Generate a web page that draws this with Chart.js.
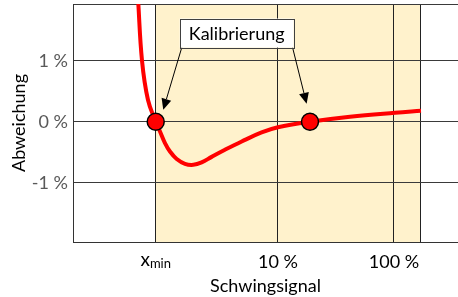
<!DOCTYPE html>
<html>
<head>
<meta charset="utf-8">
<script src="https://cdn.jsdelivr.net/npm/chart.js@4.4.1/dist/chart.umd.min.js"></script>
<style>
  html, body { margin: 0; padding: 0; background: #fff; }
  #wrap { width: 458px; height: 297px; }
</style>
</head>
<body>
<div id="wrap"><canvas id="chart"></canvas></div>
<script>
// x in decades of the signal (10 % = 1, 100 % = 2), y = deviation in %
const curveX = [-0.206, -0.172, -0.121, -0.054, -0.017, 0.026, 0.069, 0.127, 0.198, 0.270, 0.342, 0.428, 0.543, 0.687, 0.859, 1.0, 1.276, 1.621, 2.009, 2.233];
const curveY = [2.0, 1.0, 0.36, 0, -0.159, -0.349, -0.487, -0.611, -0.689, -0.705, -0.665, -0.575, -0.459, -0.323, -0.175, -0.09, 0, 0.082, 0.148, 0.18];

// calibration points
const calX = [-0.054, 1.276];
const calY = [0, 0];

const xTickPos = [-0.054, 1, 2, 2.233];
const xTickLabels = ['', '10 %', '100 %', ''];
const yTickPos = [-1.97, -1, 0, 1, 1.93];
const yTickLabels = ['', '-1 %', '0 %', '1 %', ''];

// shaded working range: x_min .. upper end
const rangeStart = -0.054;
const rangeEnd = 2.233;

const calloutText = 'Kalibrierung';
const calloutAt = { x: 0.644, y: 1.454 };
const arrowTips = [{ x: 0.011, y: 0.197 }, { x: 1.247, y: 0.295 }];

const FONT = 'Lato, "Open Sans", sans-serif';

const rangeShade = {
  id: 'rangeShade',
  beforeDraw(chart) {
    const { ctx, chartArea: a, scales: { x } } = chart;
    const x0 = x.getPixelForValue(rangeStart);
    const x1 = x.getPixelForValue(rangeEnd);
    ctx.save();
    ctx.fillStyle = '#FFF2CC';
    ctx.fillRect(x0, a.top, x1 - x0, a.bottom - a.top);
    ctx.restore();
  }
};

// the "x_min" tick label needs a subscript, so it is drawn here
const xminLabel = {
  id: 'xminLabel',
  afterDraw(chart) {
    const { ctx, scales: { x }, chartArea: a } = chart;
    const px = x.getPixelForValue(rangeStart);
    ctx.save();
    ctx.fillStyle = '#000';
    ctx.textBaseline = 'alphabetic';
    ctx.font = '19px ' + FONT;
    const wx = ctx.measureText('x').width;
    ctx.font = '13px ' + FONT;
    const ws = ctx.measureText('min').width;
    const left = px - (wx + ws) / 2;
    ctx.font = '19px ' + FONT;
    ctx.fillText('x', left, a.bottom + 24);
    ctx.font = '13px ' + FONT;
    ctx.fillText('min', left + wx, a.bottom + 26);
    ctx.restore();
  }
};

const callout = {
  id: 'callout',
  afterDraw(chart) {
    const { ctx, scales: { x, y } } = chart;
    ctx.save();
    ctx.font = '18px ' + FONT;
    const w = ctx.measureText(calloutText).width + 18;
    const h = 29;
    const cx = x.getPixelForValue(calloutAt.x);
    const cy = y.getPixelForValue(calloutAt.y);
    const bx = cx - w / 2, by = cy - h / 2;

    // arrows from the lower corners of the box
    const starts = [[bx + 2, by + h], [bx + w - 1, by + h]];
    ctx.strokeStyle = '#000';
    ctx.fillStyle = '#000';
    ctx.lineWidth = 1;
    arrowTips.forEach((t, i) => {
      const tx = x.getPixelForValue(t.x), ty = y.getPixelForValue(t.y);
      const [sx, sy] = starts[i];
      const ang = Math.atan2(ty - sy, tx - sx);
      const len = 11, half = 5;
      const bxp = tx - len * Math.cos(ang), byp = ty - len * Math.sin(ang);
      ctx.beginPath();
      ctx.moveTo(sx, sy);
      ctx.lineTo(bxp, byp);
      ctx.stroke();
      ctx.beginPath();
      ctx.moveTo(tx, ty);
      ctx.lineTo(bxp + half * Math.sin(ang), byp - half * Math.cos(ang));
      ctx.lineTo(bxp - half * Math.sin(ang), byp + half * Math.cos(ang));
      ctx.closePath();
      ctx.fill();
    });

    ctx.fillStyle = '#fff';
    ctx.fillRect(bx, by, w, h);
    ctx.strokeStyle = '#404040';
    ctx.strokeRect(Math.round(bx) + 0.5, Math.round(by) + 0.5, Math.round(w), h);
    ctx.fillStyle = '#000';
    ctx.textAlign = 'center';
    ctx.textBaseline = 'middle';
    ctx.fillText(calloutText, cx, cy + 1);
    ctx.restore();
  }
};

const layoutPad = { top: 4, left: 0, right: 0, bottom: 0 };

const chart = new Chart(document.getElementById('chart'), {
  type: 'line',
  data: {
    datasets: [
      {
        label: 'Kalibrierpunkte',
        data: calX.map((v, i) => ({ x: v, y: calY[i] })),
        showLine: false,
        pointRadius: 8.5,
        pointBackgroundColor: '#FF0000',
        pointBorderColor: '#000',
        pointBorderWidth: 1.5,
        order: 0
      },
      {
        label: 'Abweichung',
        data: curveX.map((v, i) => ({ x: v, y: curveY[i] })),
        borderColor: '#FF0000',
        borderWidth: 4,
        pointRadius: 0,
        tension: 0.4,
        order: 1
      }
    ]
  },
  options: {
    responsive: true,
    maintainAspectRatio: false,
    animation: false,
    events: [],
    layout: { autoPadding: false, padding: layoutPad },
    plugins: {
      legend: { display: false },
      tooltip: { enabled: false }
    },
    scales: {
      x: {
        type: 'linear',
        min: -0.767,
        max: 2.552,
        afterBuildTicks: (s) => { s.ticks = xTickPos.map(v => ({ value: v })); },
        afterFit: (s) => { s.height = 55; s.paddingLeft = 0; s.paddingRight = 0; },
        grid: { color: '#222', lineWidth: 1, drawTicks: false },
        border: { color: '#333', width: 1 },
        ticks: {
          padding: 9,
          color: '#000',
          font: { family: FONT, size: 18 },
          maxRotation: 0,
          autoSkip: false,
          callback: (v, i) => xTickLabels[i]
        },
        title: {
          display: true,
          text: 'Schwingsignal',
          color: '#000',
          font: { family: FONT, size: 18 },
          padding: { top: 0, bottom: 0 }
        }
      },
      y: {
        min: -1.97,
        max: 1.93,
        afterBuildTicks: (s) => { s.ticks = yTickPos.map(v => ({ value: v })); },
        afterFit: (s) => { s.width = 73; s.paddingTop = 0; s.paddingBottom = 0; },
        grid: { color: '#3a3a3a', lineWidth: 1, drawTicks: false },
        border: { color: '#333', width: 1 },
        ticks: {
          padding: 5,
          color: '#595959',
          font: { family: FONT, size: 18 },
          autoSkip: false,
          callback: (v, i) => yTickLabels[i]
        },
        title: {
          display: true,
          text: 'Abweichung',
          color: '#000',
          font: { family: FONT, size: 18 },
          padding: { top: 8, bottom: 0 }
        }
      }
    }
  },
  plugins: [rangeShade, xminLabel, callout]
});

// pull the plot area back to the frame if the layout left extra room
for (let k = 0; k < 2; k++) {
  const a = chart.chartArea;
  chart.config.options.layout.padding = {
    top: layoutPad.top + (4 - a.top),
    left: 0,
    right: layoutPad.right + (a.right - chart.width),
    bottom: 0
  };
  layoutPad.top = chart.config.options.layout.padding.top;
  layoutPad.right = chart.config.options.layout.padding.right;
  chart.update();
}
</script>
</body>
</html>
